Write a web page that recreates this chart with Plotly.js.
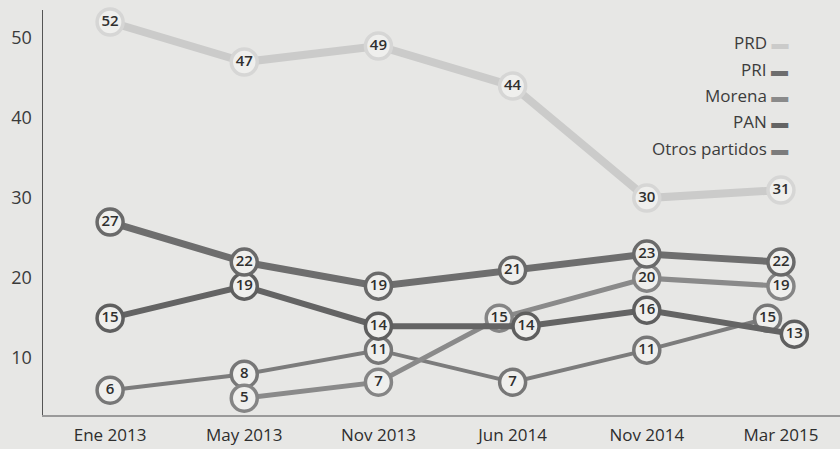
<!DOCTYPE html>
<html>
<head>
<meta charset="utf-8">
<script src="https://cdn.plot.ly/plotly-3.0.1.min.js"></script>
<style>html,body{margin:0;padding:0;background:#e7e7e5;}#chart{width:840px;height:449px;}</style>
</head>
<body>
<div id="chart"></div>
<script>
const categories = ['Ene 2013','May 2013','Nov 2013','Jun 2014','Nov 2014','Mar 2015'];
const seriesNames = ['PRD','PRI','Morena','PAN','Otros partidos'];
const prd    = [52, 47, 49, 44, 30, 31];
const pri    = [27, 22, 19, 21, 23, 22];
const morena = [null, 5, 7, 15, 20, 19];
const pan    = [15, 19, 14, 14, 16, 13];
const otros  = [6, 8, 11, 7, 11, 15];
const yTicks = [10, 20, 30, 40, 50];

const values = [prd, pri, morena, pan, otros];
const lineColors = ['#cbcbca', '#6e6e6e', '#8a8a8a', '#646464', '#7c7c7c'];
const markerLines = ['#d6d6d5', '#6a6a6a', '#858585', '#5f5f5f', '#777777'];
const lineWidths = [8, 7, 5, 6, 4];
const drawOrder = [4, 2, 3, 1, 0];

// dodge: points of one category that are too close in value are spread sideways
const dodge = values.map(v => v.map(() => 0));
categories.forEach((c, ci) => {
  const pts = values.map((v, si) => ({si, v: v[ci]})).filter(p => p.v !== null)
                    .sort((a, b) => b.v - a.v);
  for (let k = 0; k < pts.length - 1; k++) {
    if (pts[k].v - pts[k + 1].v <= 2) {
      dodge[pts[k].si][ci] = -0.1;
      dodge[pts[k + 1].si][ci] = 0.1;
      k++;
    }
  }
});

const traces = drawOrder.map(i => ({
  type: 'scatter',
  mode: 'lines+markers+text',
  name: seriesNames[i],
  x: categories.map((c, ci) => ci + dodge[i][ci]),
  y: values[i],
  text: values[i].map(v => v === null ? '' : String(v)),
  textposition: 'middle center',
  textfont: {family: 'Open Sans, sans-serif', size: 15, color: '#2f2f2f', weight: 600},
  line: {color: lineColors[i], width: lineWidths[i]},
  marker: {size: 26, color: '#efefed', line: {color: markerLines[i], width: 3.5}},
  cliponaxis: false,
  connectgaps: false,
  hoverinfo: 'y+name'
}));

const annotations = seriesNames.map((n, i) => ({
  xref: 'paper', yref: 'paper',
  x: 0.937, y: 0.919 - i * 0.065,
  xanchor: 'right', yanchor: 'middle',
  showarrow: false,
  align: 'right',
  text: n + ' <span style="color:' + lineColors[i] + '">▬</span>',
  font: {family: 'Open Sans, sans-serif', size: 17, color: '#3c3c3c'}
}));

const layout = {
  width: 840, height: 449,
  margin: {l: 43, r: 0, t: 10, b: 34},
  paper_bgcolor: '#e7e7e5',
  plot_bgcolor: '#e7e7e5',
  showlegend: false,
  xaxis: {
    range: [-0.5, 5.44],
    tickvals: categories.map((c, i) => i),
    ticktext: categories,
    showgrid: false, zeroline: false,
    showline: true, linecolor: '#9a9a9a', linewidth: 2,
    ticks: '', ticklabelstandoff: 4,
    tickfont: {family: 'Open Sans, sans-serif', size: 17, color: '#2e2e2e'}
  },
  yaxis: {
    range: [2.9, 53.5],
    tickvals: yTicks,
    ticktext: yTicks.map(String),
    showgrid: false, zeroline: false,
    showline: true, linecolor: '#555555', linewidth: 1.5,
    ticks: '', ticklabelstandoff: 6,
    tickfont: {family: 'Open Sans, sans-serif', size: 18, color: '#3a3a3a'}
  },
  annotations: annotations
};

Plotly.newPlot('chart', traces, layout, {displayModeBar: false, staticPlot: true});
</script>
</body>
</html>
